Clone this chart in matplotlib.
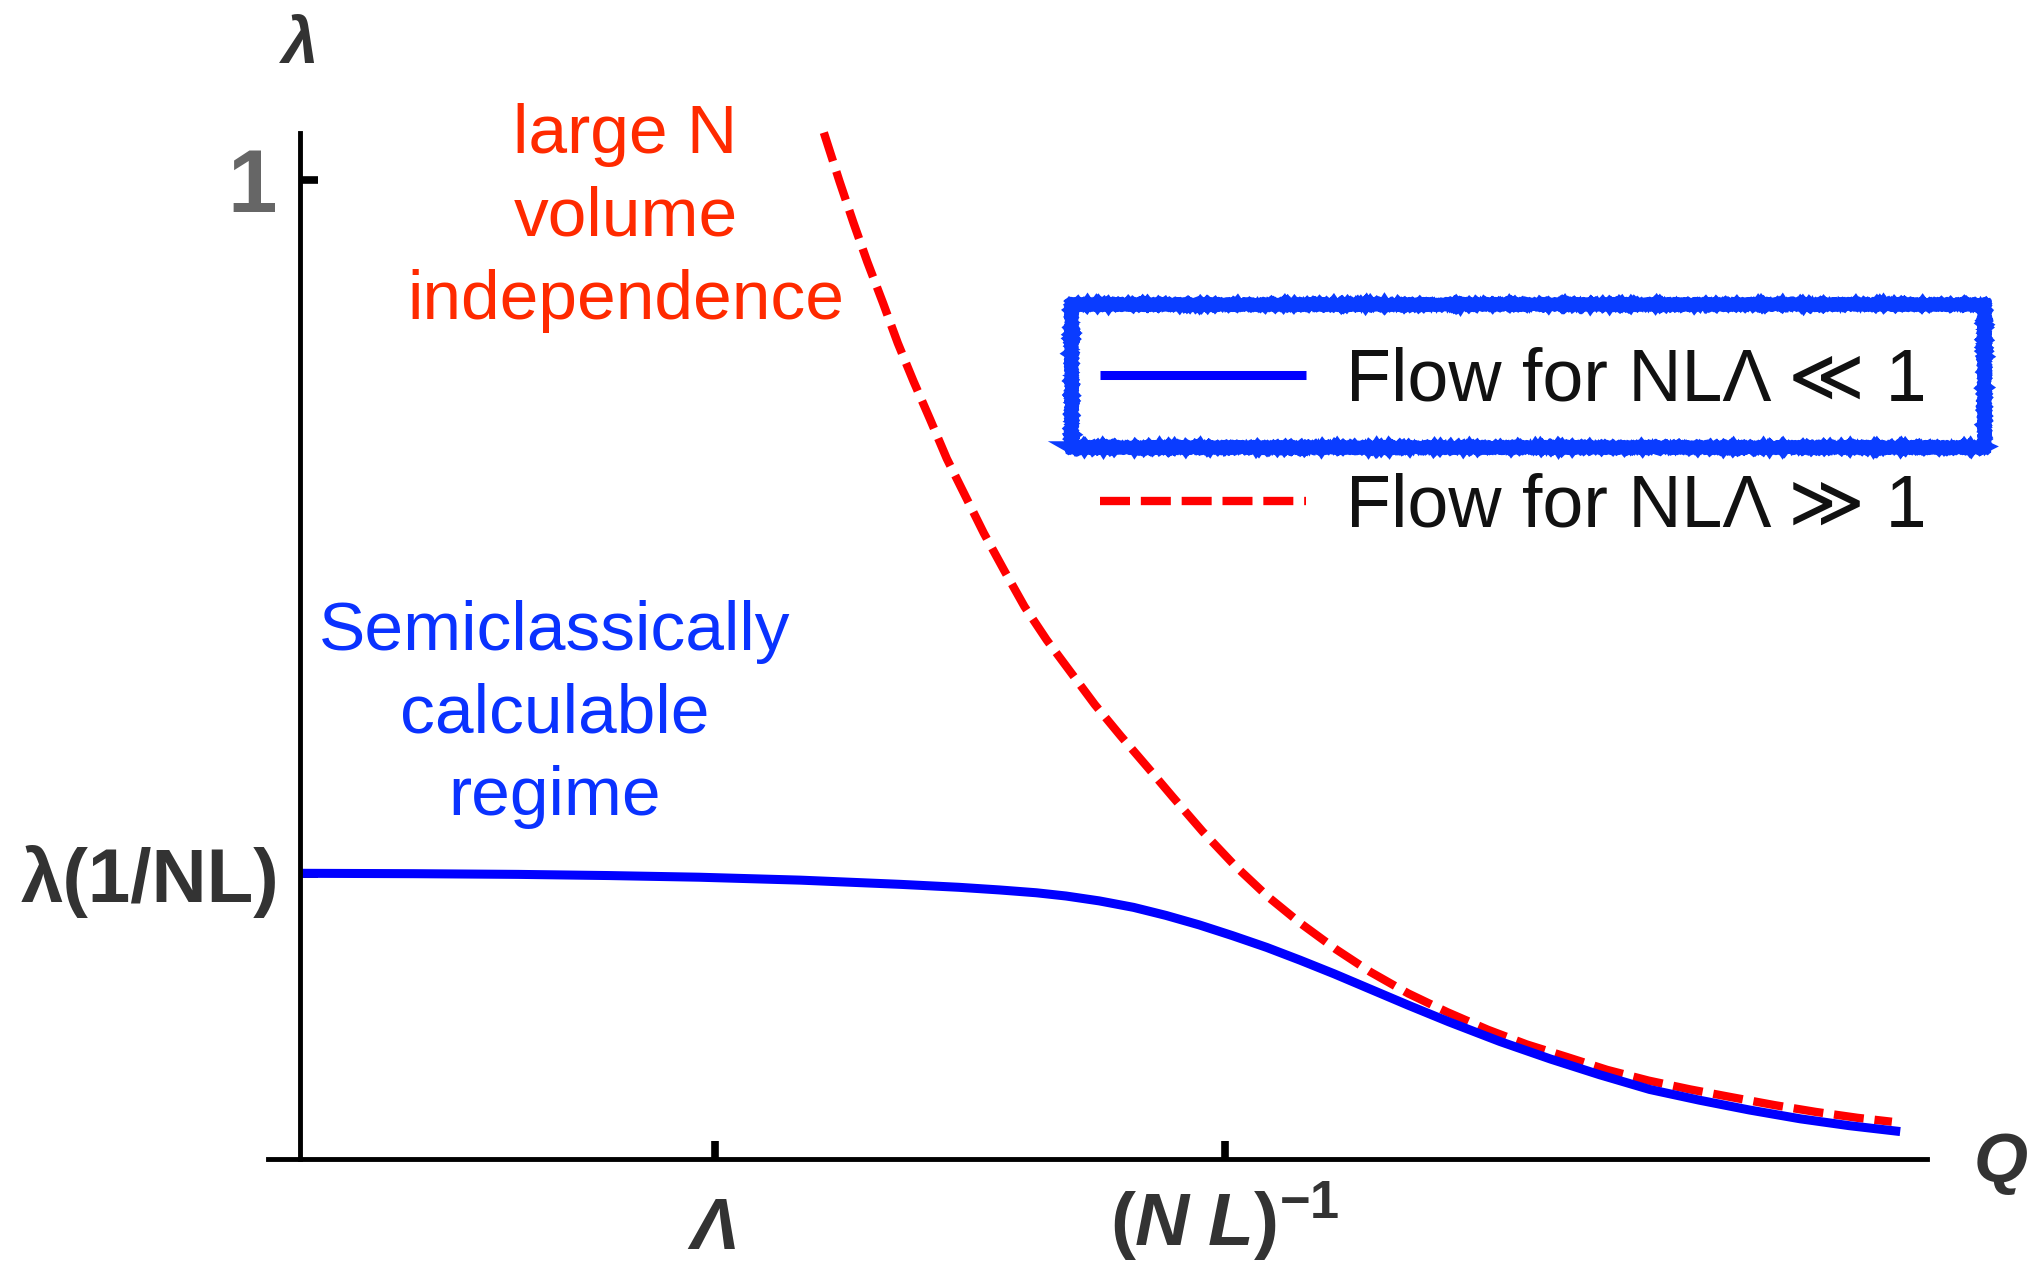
import matplotlib
matplotlib.use("Agg")
import matplotlib.pyplot as plt
import matplotlib.transforms as mtransforms
from matplotlib.patches import Rectangle

plt.rcParams['font.family'] = ['Liberation Sans', 'DejaVu Sans']
plt.rcParams['mathtext.fontset'] = 'custom'
plt.rcParams['mathtext.rm'] = 'Liberation Sans:bold'
plt.rcParams['mathtext.it'] = 'Liberation Sans:italic:bold'
plt.rcParams['mathtext.bf'] = 'Liberation Sans:bold'

# ---------------- data ----------------
# Flow for NL*Lambda << 1 (blue, solid)
q_small = [0.000, 0.123, 0.235, 0.333, 0.431, 0.541, 0.649, 0.712, 0.756, 0.796,
           0.828, 0.864, 0.901, 0.936, 0.972, 1.008, 1.045, 1.081, 1.118, 1.153,
           1.198, 1.242, 1.297, 1.352, 1.405, 1.459, 1.513, 1.567, 1.622, 1.675,
           1.730]
lam_small = [0.2917, 0.2913, 0.2906, 0.2894, 0.2877, 0.2847, 0.2804, 0.2774, 0.2747,
             0.2718, 0.2685, 0.2635, 0.2569, 0.2487, 0.239, 0.228, 0.216, 0.203,
             0.189, 0.175, 0.157, 0.140, 0.120, 0.102, 0.086, 0.071, 0.060, 0.050,
             0.041, 0.034, 0.028]

# Flow for NL*Lambda >> 1 (red, dashed)
q_large = [0.566, 0.583, 0.598, 0.613, 0.630, 0.646, 0.663, 0.681, 0.699, 0.719,
           0.739, 0.761, 0.783, 0.807, 0.833, 0.859, 0.887, 0.917, 0.943, 0.976,
           1.010, 1.046, 1.081, 1.120, 1.157, 1.198, 1.240, 1.284, 1.326, 1.370,
           1.413, 1.458, 1.503, 1.548, 1.594, 1.639, 1.684, 1.721]
lam_large = [1.048, 0.998, 0.956, 0.916, 0.874, 0.833, 0.794, 0.755, 0.715, 0.677,
             0.639, 0.601, 0.564, 0.530, 0.497, 0.464, 0.432, 0.399, 0.370, 0.334,
             0.300, 0.268, 0.241, 0.214, 0.191, 0.169, 0.150, 0.132, 0.117, 0.104,
             0.091, 0.080, 0.071, 0.063, 0.055, 0.048, 0.042, 0.038]

series_labels = ["Flow for NLΛ ≪ 1", "Flow for NLΛ ≫ 1"]

x_tick_pos = [0.448, 1.0]
x_tick_labels = ["Λ", r"$(N\;L)^{-1}$"]
y_tick_pos = [0.291, 1.0]
y_tick_labels = ["λ(1/NL)", "1"]

# ---------------- figure ----------------
fig = plt.figure(figsize=(20.31, 12.69), dpi=100)
ax = fig.add_axes([0.1320, 0.0867, 0.8168, 0.8085])
ax.set_xlim(-0.035, 1.759)
ax.set_ylim(0, 1.0476)

red_line, = ax.plot(q_large, lam_large, color='#ff0000', lw=6.0,
                    dashes=(3.6, 1.3), clip_on=False, zorder=2.1)
blue_line, = ax.plot(q_small, lam_small, color='#0000ff', lw=6.5,
                     solid_capstyle='butt', clip_on=False, zorder=2.2)

for s in ['top', 'right']:
    ax.spines[s].set_visible(False)
ax.spines['left'].set_position(('data', 0))
for s in ['left', 'bottom']:
    ax.spines[s].set_linewidth(3.5)
    ax.spines[s].set_color('black')

ax.set_xticks(x_tick_pos, x_tick_labels)
ax.set_yticks(y_tick_pos, y_tick_labels)
ax.tick_params(direction='in', length=13, width=5.5, color='black')
ax.tick_params(axis='x', pad=27, labelsize=52, labelcolor='#333333')
ax.tick_params(axis='y', pad=15, labelsize=55, labelcolor='#333333')
for t in ax.get_xticklabels():
    t.set_fontweight('bold')
    t.set_fontstyle('italic')
for t in ax.get_yticklabels():
    t.set_fontweight('bold')
ylab_one = ax.get_yticklabels()[1]
ylab_one.set_color('#666666')
ylab_one.set_fontsize(64)
ylab_one.set_transform(ylab_one.get_transform() +
                       mtransforms.ScaledTranslation(-2 / 72, 0, fig.dpi_scale_trans))
xlab_nl = ax.get_xticklabels()[1]
xlab_nl.set_fontsize(54)
xlab_nl.set_transform(xlab_nl.get_transform() +
                      mtransforms.ScaledTranslation(0, 12 / 72, fig.dpi_scale_trans))

# axis labels
ax.text(0, 1.136, "λ", ha='center', va='center', fontsize=47,
        fontweight='bold', fontstyle='italic', color='#333333', clip_on=False)
ax.text(1.839, -0.004, "Q", ha='center', va='center', fontsize=50,
        fontweight='bold', fontstyle='italic', color='#333333', clip_on=False)

# annotations
ax.text(0.3515, 0.961, "large N\nvolume\nindependence", ha='center', va='center',
        fontsize=50, color='#ff2a00', linespacing=1.385)
ax.text(0.2745, 0.454, "Semiclassically\ncalculable\nregime", ha='center',
        va='center', fontsize=50, color='#0a32ff', linespacing=1.365)

# legend
leg = ax.legend([blue_line, red_line], series_labels, loc='center left',
                bbox_to_anchor=(1100 / 2031, 1 - 444 / 1269),
                bbox_transform=fig.transFigure, frameon=False, fontsize=53,
                handlelength=2.8, handletextpad=0.54, labelspacing=0.78,
                borderpad=0, borderaxespad=0)
for t in leg.get_texts():
    t.set_color('#111111')

# rough hand-drawn blue box around the first legend entry
W, H = 2031.0, 1269.0
x0, x1, ytop, ybot = 1071, 1984, 304, 447
for lw, sc, ln, off in [(9.0, 0.8, 2.0, 0), (2.0, 1.2, 3.0, 5), (2.0, 1.2, 3.0, -5)]:
    r = Rectangle(((x0 - off) / W, 1 - (ybot + off) / H),
                  (x1 - x0 + 2 * off) / W, (ybot - ytop + 2 * off) / H,
                  transform=fig.transFigure, fill=False, ec='#0a3cff', lw=lw,
                  zorder=5)
    r.set_sketch_params(scale=sc, length=ln, randomness=4)
    fig.add_artist(r)

fig.savefig("out.png", dpi=100)
